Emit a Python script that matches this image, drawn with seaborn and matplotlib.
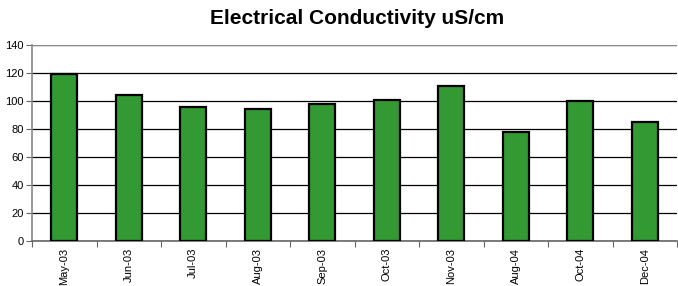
import matplotlib
matplotlib.use("Agg")
import matplotlib.pyplot as plt
import seaborn as sns
import pandas as pd

months = ["May-03", "Jun-03", "Jul-03", "Aug-03", "Sep-03", "Oct-03", "Nov-03", "Aug-04", "Oct-04", "Dec-04"]
conductivity = [119, 104, 96, 94, 98, 101, 111, 78, 100, 85]
y_ticks = [0, 20, 40, 60, 80, 100, 120, 140]

sns.set_style("white")
plt.rcParams["font.family"] = ["Liberation Sans", "DejaVu Sans"]
plt.rcParams["text.color"] = "black"
plt.rcParams["xtick.color"] = "black"
plt.rcParams["ytick.color"] = "black"

df = pd.DataFrame({"month": months, "ec": conductivity})

fig = plt.figure(figsize=(6.78, 2.86), dpi=100)
ax = fig.add_axes([32 / 678, 45 / 286, 645 / 678, 196 / 286])

sns.barplot(data=df, x="month", y="ec", color="#339933", saturation=1,
            edgecolor="black", linewidth=1.6, width=0.41, ax=ax, zorder=3)

ax.set_ylim(0, 140)
ax.set_xlim(-0.5, len(months) - 0.5)
ax.set_yticks(y_ticks)
ax.yaxis.grid(True, color="black", linewidth=0.9, zorder=0)
ax.axhline(140, color="#888888", linewidth=1.5, zorder=1)
ax.set_axisbelow(True)

for s in ["top", "right"]:
    ax.spines[s].set_visible(False)
ax.spines["left"].set_color("#888888")
ax.spines["bottom"].set_color("#666666")
ax.spines["left"].set_linewidth(1.2)
ax.spines["bottom"].set_linewidth(1.2)

# category boundary ticks on x
ax.set_xticks([i - 0.5 for i in range(len(months) + 1)], minor=True)
ax.set_xticks(range(len(months)))
ax.set_xticklabels(months, rotation=90, fontsize=8)
ax.tick_params(axis="x", which="major", length=0, pad=5)
ax.tick_params(axis="x", which="minor", length=4, width=0.8, color="#666666", direction="out", bottom=True)
ax.tick_params(axis="y", length=4, width=0.8, color="#666666", labelcolor="black",
               direction="out", left=True, labelsize=8, pad=2)

ax.set_xlabel("")
ax.set_ylabel("")
fig.text(357.5 / 678, 1 - 19 / 286, "Electrical Conductivity uS/cm", ha="center", va="center",
         fontsize=15, fontweight="bold", color="black")

fig.savefig("out.png", dpi=100)
